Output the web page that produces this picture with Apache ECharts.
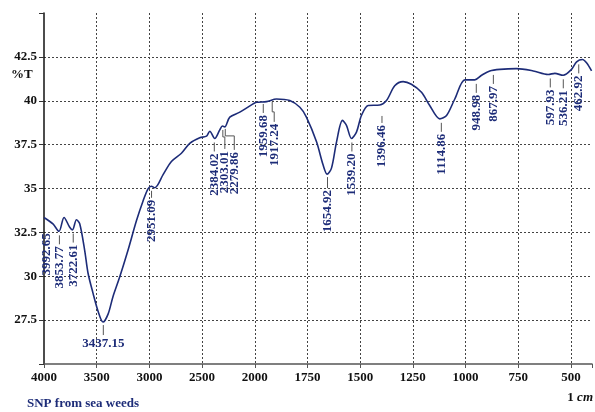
<!DOCTYPE html>
<html>
<head>
<meta charset="utf-8">
<script src="https://cdn.jsdelivr.net/npm/echarts@6/dist/echarts.min.js"></script>
<style>
  html, body { margin: 0; padding: 0; background: #fff; }
  #chart { width: 595px; height: 412px; }
</style>
</head>
<body>
<div id="chart"></div>
<script>
// spectrum (wavenumber in cm-1, transmittance in %T)
const wavenumber = [4000, 3915, 3858, 3810, 3756, 3730, 3692, 3661, 3614, 3582, 3535, 3487, 3440, 3392, 3345, 3281, 3203, 3123, 3060,
  3013, 2981, 2949, 2870, 2791, 2696, 2617, 2522, 2458, 2427, 2380, 2332, 2307, 2285, 2237, 2142, 2016, 1992, 1944, 1897, 1834, 1786,
  1755, 1707, 1676, 1657, 1636, 1612, 1584, 1565, 1541, 1517, 1494, 1462, 1407, 1375, 1336, 1296, 1257, 1209, 1170, 1122, 1090, 1051,
  1003, 956, 924, 885, 837, 758, 679, 608, 576, 537, 497, 473, 445, 426, 402];
const transmittance = [33.35, 32.98, 32.56, 33.35, 32.79, 32.64, 33.22, 32.99, 31.48, 30.17, 29.04, 28.01, 27.39, 27.84, 28.85, 29.97, 31.48, 33.16, 34.29,
  34.98, 35.13, 35.04, 35.79, 36.54, 37.01, 37.57, 37.89, 37.98, 38.26, 37.85, 38.34, 38.56, 38.51, 39.07, 39.35, 39.82, 39.91, 39.95, 40.10, 40.01, 39.63,
  39.07, 37.66, 36.35, 35.82, 36.16, 37.66, 38.88, 38.6, 37.85, 38.23, 39.16, 39.73, 39.76, 40.01, 40.85, 41.09, 40.94, 40.48, 39.73, 38.97, 39.16, 40.1,
  41.19, 41.19, 41.45, 41.7, 41.79, 41.83, 41.7, 41.5, 41.56, 41.45, 41.79, 42.22, 42.35, 42.16, 41.7];

// labelled peaks and the %T of the curve there
const peakWavenumber = [3992.65, 3853.77, 3722.61, 3437.15, 2951.09, 2384.02, 2303.01, 2279.86, 1959.68, 1917.24,
  1654.92, 1539.20, 1396.46, 1114.86, 948.98, 867.97, 597.93, 536.21, 462.92];
const peakT = [33.3, 32.56, 32.66, 27.39, 35.04, 37.85, 38.45, 38.51, 39.93, 40.05,
  35.82, 37.85, 39.76, 38.97, 41.19, 41.7, 41.5, 41.45, 42.3];

const xTickLabels = ['4000', '3500', '3000', '2500', '2000', '1750', '1500', '1250', '1000', '750', '500'];
const yTickLabels = ['27.5', '30', '32.5', '35', '37.5', '40', '42.5'];

// the axis is twice as wide per cm-1 below 2000
function toAxis(w) {
  return w >= 2000 ? 4000 - w : 2000 + 2 * (2000 - w);
}

const navy = '#1d2c78';
const serif = '"Liberation Serif", "DejaVu Serif", serif';

const lineData = wavenumber.map((w, i) => [toAxis(w), transmittance[i]]);
const peakData = peakWavenumber.map((w, i) => [toAxis(w), peakT[i], i]);

// leader layout for some labels: gap below curve, leader length, sideways elbow
const leaderStyle = {
  '3992.65': { gap: 15, len: 0, dx: 2 },
  '2951.09': { gap: 3, len: 7, dx: -3 },
  '2303.01': { gap: 2, len: 19, dx: 2, drop: 7 },
  '2279.86': { gap: 2, len: 21, dx: 9, drop: 7 },
  '1917.24': { gap: 2, len: 20, dx: 2, drop: 10 },
  '1959.68': { gap: 2, len: 9, dx: 0 },
  '1654.92': { gap: 3, len: 11, dx: 0 },
  '1396.46': { gap: 11, len: 7, dx: 0 }
};

function renderPeak(params, api) {
  const i = api.value(2);
  const name = peakWavenumber[i].toFixed(2);
  const pt = api.coord([api.value(0), api.value(1)]);
  const x = pt[0], y = pt[1];
  const font = 'bold 13px ' + serif;
  if (name === '3437.15') {
    return {
      type: 'group', children: [
        { type: 'line', shape: { x1: x, y1: y + 3, x2: x, y2: y + 13 }, style: { stroke: '#555', lineWidth: 1 } },
        { type: 'text', x: x, y: y + 15, style: { text: name, fill: navy, font: font, align: 'center', verticalAlign: 'top' } }
      ]
    };
  }
  const s = Object.assign({ gap: 4, len: 9, dx: 0, drop: 0 }, leaderStyle[name] || {});
  const y0 = y + s.gap, y1 = y0 + s.len;
  const children = [];
  if (s.len > 0) {
    const pts = s.drop
      ? [[x, y0], [x, y0 + s.drop], [x + s.dx, y0 + s.drop], [x + s.dx, y1]]
      : [[x + s.dx, y0], [x + s.dx, y1]];
    children.push({ type: 'polyline', shape: { points: pts }, style: { stroke: '#555', lineWidth: 1, fill: null } });
  }
  children.push({
    type: 'text', x: x + s.dx, y: y1 + (s.len > 0 ? 2 : 0), rotation: Math.PI / 2,
    style: { text: name, fill: navy, font: font, align: 'right', verticalAlign: 'middle' }
  });
  return { type: 'group', children: children };
}

const chart = echarts.init(document.getElementById('chart'));
chart.setOption({
  animation: false,
  backgroundColor: '#fff',
  grid: { left: 44, right: 3, top: 13, bottom: 48 },
  xAxis: {
    type: 'value', min: 0, max: 5200, interval: 500,
    axisLine: { show: true, lineStyle: { color: '#555', width: 1.5 } },
    axisTick: { show: true, length: 4, lineStyle: { color: '#555' } },
    axisLabel: {
      color: '#111', fontFamily: serif, fontWeight: 'bold', fontSize: 13, margin: 7,
      formatter: v => xTickLabels[v / 500] || ''
    },
    splitLine: { show: true, showMinLine: false, showMaxLine: false, lineStyle: { color: '#444', type: [2, 2], width: 1 } }
  },
  yAxis: {
    type: 'value', min: 25, max: 45, interval: 2.5,
    axisLine: { show: true, lineStyle: { color: '#111', width: 1.5 } },
    axisTick: { show: true, length: 5, lineStyle: { color: '#333' } },
    axisLabel: {
      color: '#111', fontFamily: serif, fontWeight: 'bold', fontSize: 13, margin: 7,
      formatter: v => yTickLabels.includes(String(v)) ? String(v) : ''
    },
    splitLine: { show: true, showMinLine: false, showMaxLine: false, lineStyle: { color: '#444', type: [2, 2], width: 1 } }
  },
  graphic: [
    { type: 'text', left: 11, top: 68, style: { text: '%T', font: 'bold 13px ' + serif, fill: '#111' } },
    { type: 'text', left: 27, top: 397, style: { text: 'SNP from sea weeds', font: 'bold 13px ' + serif, fill: navy } },
    {
      type: 'text', right: 2, top: 391,
      style: {
        text: '{a|1 }{b|cm}',
        rich: {
          a: { font: 'bold 13px ' + serif, fill: '#111' },
          b: { font: 'italic bold 13px ' + serif, fill: '#111' }
        }
      }
    }
  ],
  series: [
    {
      type: 'line', data: lineData, smooth: 0.3, symbol: 'none',
      lineStyle: { color: navy, width: 1.6 }, z: 3
    },
    {
      type: 'custom', data: peakData, renderItem: renderPeak, clip: false, z: 4,
      encode: { x: 0, y: 1 }
    }
  ]
});
</script>
</body>
</html>
